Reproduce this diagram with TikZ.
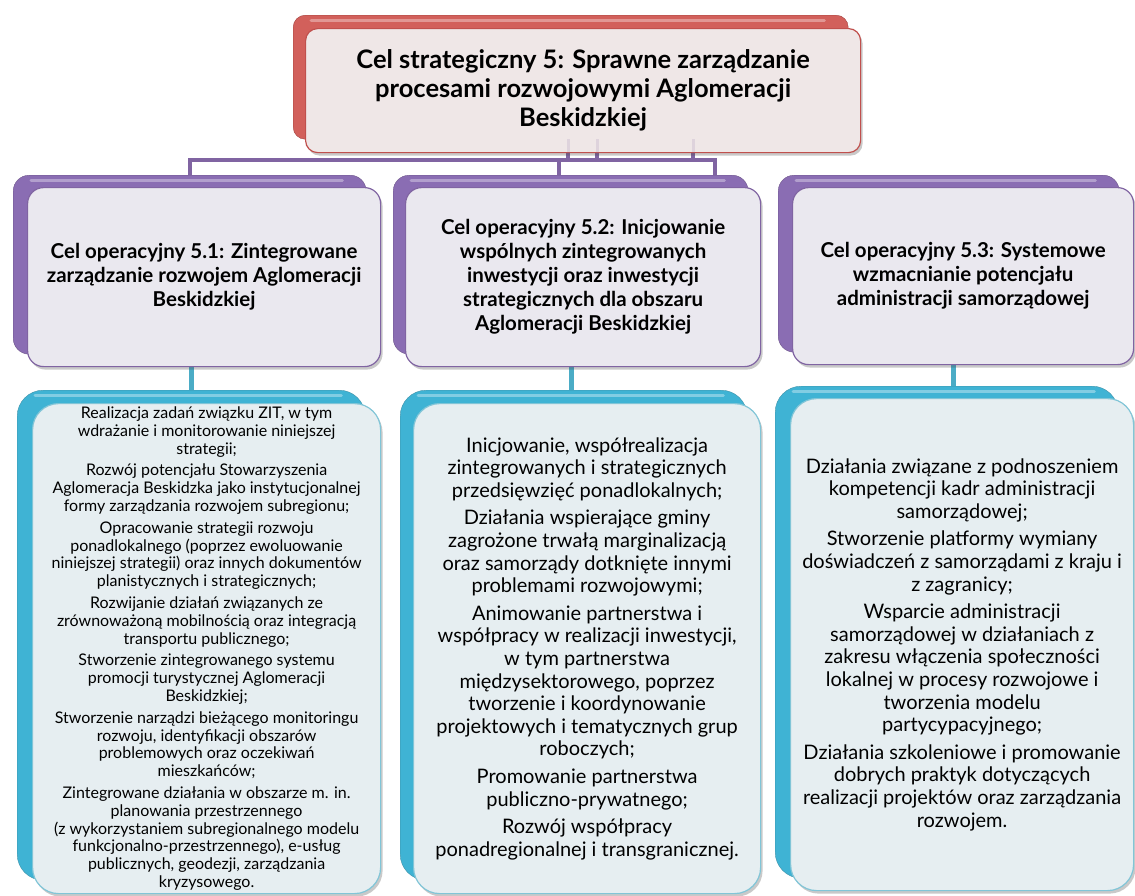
\documentclass[tikz,border=0pt]{standalone}
\usepackage{fontspec}
\setmainfont{Lato}
\usetikzlibrary{shadows}
\definecolor{redC}{HTML}{C0504D}
\definecolor{redTab}{HTML}{D2605B}
\definecolor{purpC}{HTML}{8064A2}
\definecolor{purpTab}{HTML}{8A6DB3}
\definecolor{blueC}{HTML}{4BACC6}
\definecolor{blueTab}{HTML}{3FB3D4}
\definecolor{topFill}{HTML}{EFE7E7}
\definecolor{purpFill}{HTML}{EAE8EF}
\definecolor{blueFill}{HTML}{E6EEF1}
\tikzset{
  tabbox/.style={anchor=north west, inner sep=0pt, rounded corners=#1},
  frontbox/.style={anchor=north west, inner sep=0pt, align=center, line width=1.2pt,
    rounded corners=#1,
    drop shadow={shadow xshift=2pt, shadow yshift=-3pt, opacity=.3, fill=black!70}},
  pline/.style={draw=purpC, line width=4pt},
  bline/.style={draw=blueC, line width=5pt},
  hilite/.style={white, opacity=.35, line width=3pt, line cap=round}
}
\begin{document}
\begin{tikzpicture}[x=1pt, y=-1pt]
\useasboundingbox (0,0) rectangle (1135,895);

% ---------- back tabs ----------
\node[tabbox=12pt, fill=redTab, draw=redC!85!black, minimum width=555pt, minimum height=124pt] (topback) at (293,15) {};
\node[tabbox=16pt, fill=purpTab, draw=purpC!85!black, minimum width=353pt, minimum height=179pt] (p1back) at (13,175) {};
\node[tabbox=16pt, fill=purpTab, draw=purpC!85!black, minimum width=355pt, minimum height=179pt] (p2back) at (393,175) {};
\node[tabbox=16pt, fill=purpTab, draw=purpC!85!black, minimum width=341pt, minimum height=177pt] (p3back) at (778,175) {};
\node[tabbox=26pt, fill=blueTab, draw=blueC!85!black, minimum width=348pt, minimum height=490pt] (b1back) at (17,390) {};
\node[tabbox=26pt, fill=blueTab, draw=blueC!85!black, minimum width=347pt, minimum height=490pt] (b2back) at (400,390) {};
\node[tabbox=26pt, fill=blueTab, draw=blueC!85!black, minimum width=343pt, minimum height=492pt] (b3back) at (775,386) {};
\foreach \n in {topback,p1back,p2back,p3back,b1back,b2back,b3back}{
  \draw[hilite] ([xshift=18pt,yshift=-5pt]\n.north west) -- ([xshift=-24pt,yshift=-5pt]\n.north east);
}

% ---------- connectors ----------
\coordinate (hR) at (715,160);
\coordinate (d2) at (559,160);
\coordinate (s1) at (568,160);
\coordinate (s2) at (597,160);
\coordinate (s3) at (693,160);
\draw[pline] (p1back.north) |- (hR) -- (hR |- p2back.north);
\draw[pline] (d2) -- (d2 |- p2back.north);
\draw[pline] (s1) -- ++(0,-12);
\draw[pline] (s2) -- ++(0,-12);
\draw[pline] (s3) -- ++(0,-12);
\coordinate (c3) at (953,380);
\draw[bline] (b1back.north) -- ++(0,-30);
\draw[bline] ([xshift=-2pt]b2back.north) -- ++(0,-30);
\draw[bline] (c3 |- b3back.north) -- ++(0,-30);

% ---------- front boxes ----------
\node[frontbox=12pt, draw=redC, fill=topFill, minimum width=555pt, minimum height=124pt,
  font=\fontsize{25.5}{29}\selectfont\bfseries] (top) at (305,28)
  {Cel strategiczny 5: Sprawne zarządzanie\\ procesami rozwojowymi Aglomeracji\\ Beskidzkiej};

\node[frontbox=16pt, draw=purpC, fill=purpFill, minimum width=353pt, minimum height=179pt,
  font=\fontsize{20.5}{24}\selectfont\bfseries] (p1) at (27,187)
  {Cel operacyjny 5.1: Zintegrowane\\ zarządzanie rozwojem Aglomeracji\\ Beskidzkiej};
\node[frontbox=16pt, draw=purpC, fill=purpFill, minimum width=355pt, minimum height=179pt,
  font=\fontsize{20.5}{24}\selectfont\bfseries] (p2) at (405,187)
  {Cel operacyjny 5.2: Inicjowanie\\ wspólnych zintegrowanych\\ inwestycji oraz inwestycji\\ strategicznych dla obszaru\\ Aglomeracji Beskidzkiej};
\node[frontbox=16pt, draw=purpC, fill=purpFill, minimum width=341pt, minimum height=177pt,
  font=\fontsize{20.5}{24}\selectfont\bfseries] (p3) at (792,187)
  {Cel operacyjny 5.3: Systemowe\\ wzmacnianie potencjału\\ administracji samorządowej};

\node[frontbox=26pt, draw=blueC!70!white, fill=blueFill, minimum width=348pt, minimum height=490pt,
  font=\fontsize{16}{17.8}\selectfont] (b1) at (32,403)
  {Realizacja zadań związku ZIT, w tym\\ wdrażanie i monitorowanie niniejszej\\ strategii;\\[4pt]
   Rozwój potencjału Stowarzyszenia\\ Aglomeracja Beskidzka jako instytucjonalnej\\ formy zarządzania rozwojem subregionu;\\[4pt]
   Opracowanie strategii rozwoju\\ ponadlokalnego (poprzez ewoluowanie\\ niniejszej strategii) oraz innych dokumentów\\ planistycznych i strategicznych;\\[4pt]
   Rozwijanie działań związanych ze\\ zrównoważoną mobilnością oraz integracją\\ transportu publicznego;\\[4pt]
   Stworzenie zintegrowanego systemu\\ promocji turystycznej Aglomeracji\\ Beskidzkiej;\\[4pt]
   Stworzenie narządzi bieżącego monitoringu\\ rozwoju, identyfikacji obszarów\\ problemowych oraz oczekiwań\\ mieszkańców;\\[4pt]
   Zintegrowane działania w obszarze m. in.\\ planowania przestrzennego\\ (z wykorzystaniem subregionalnego modelu\\ funkcjonalno-przestrzennego), e-usług\\ publicznych, geodezji, zarządzania\\ kryzysowego.};
\node[frontbox=26pt, draw=blueC!70!white, fill=blueFill, minimum width=347pt, minimum height=490pt,
  font=\fontsize{20}{22.6}\selectfont] (b2) at (413,403)
  {Inicjowanie, współrealizacja\\ zintegrowanych i strategicznych\\ przedsięwzięć ponadlokalnych;\\[5pt]
   Działania wspierające gminy\\ zagrożone trwałą marginalizacją\\ oraz samorządy dotknięte innymi\\ problemami rozwojowymi;\\[5pt]
   Animowanie partnerstwa i\\ współpracy w realizacji inwestycji,\\ w tym partnerstwa\\ międzysektorowego, poprzez\\ tworzenie i koordynowanie\\ projektowych i tematycznych grup\\ roboczych;\\[5pt]
   Promowanie partnerstwa\\ publiczno-prywatnego;\\[5pt]
   Rozwój współpracy\\ ponadregionalnej i transgranicznej.};
\node[frontbox=26pt, draw=blueC!70!white, fill=blueFill, minimum width=343pt, minimum height=492pt,
  font=\fontsize{20}{22.6}\selectfont] (b3) at (790,398)
  {Działania związane z podnoszeniem\\ kompetencji kadr administracji\\ samorządowej;\\[5pt]
   Stworzenie platformy wymiany\\ doświadczeń z samorządami z kraju i\\ z zagranicy;\\[5pt]
   Wsparcie administracji\\ samorządowej w działaniach z\\ zakresu włączenia społeczności\\ lokalnej w procesy rozwojowe i\\ tworzenia modelu\\ partycypacyjnego;\\[5pt]
   Działania szkoleniowe i promowanie\\ dobrych praktyk dotyczących\\ realizacji projektów oraz zarządzania\\ rozwojem.};

% faint connector traces seen through the top box
\draw[purpC, opacity=.15, line width=3pt] (s1 |- top.south) -- ++(0,-14);
\draw[purpC, opacity=.15, line width=3pt] (s2 |- top.south) -- ++(0,-14);
\draw[purpC, opacity=.15, line width=3pt] (s3 |- top.south) -- ++(0,-14);
\end{tikzpicture}
\end{document}
